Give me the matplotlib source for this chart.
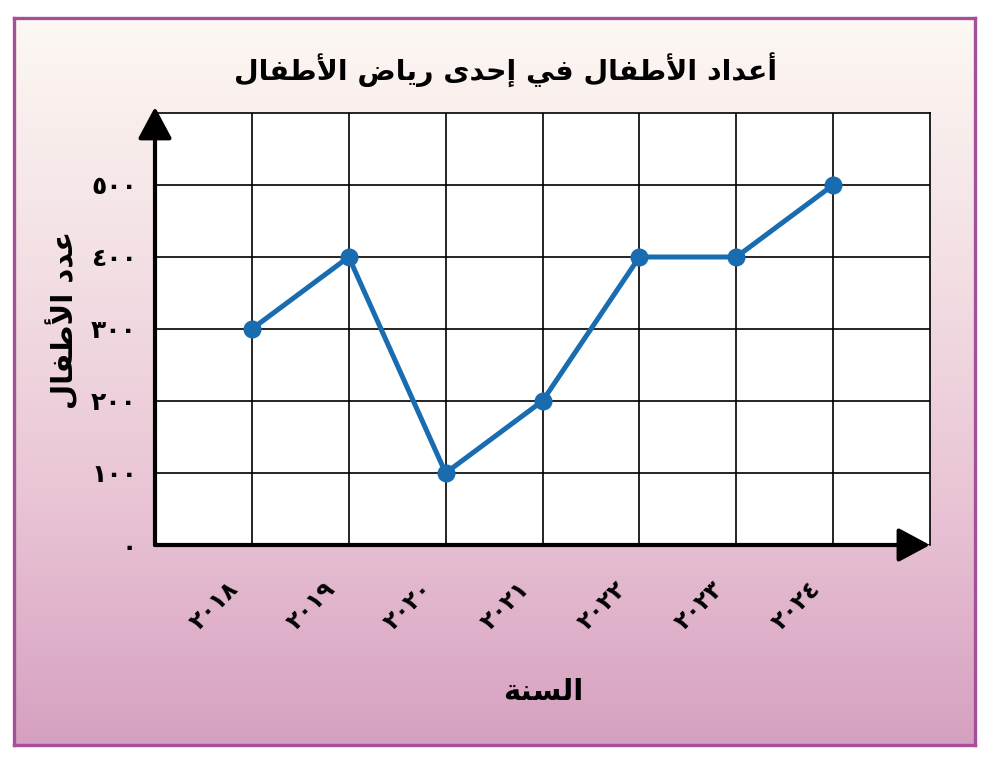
import matplotlib.pyplot as plt
import numpy as np
from matplotlib.colors import LinearSegmentedColormap
from matplotlib.transforms import ScaledTranslation

years = [2018, 2019, 2020, 2021, 2022, 2023, 2024]
children = [300, 400, 100, 200, 400, 400, 500]
y_ticks = [0, 100, 200, 300, 400, 500]

title = "أعداد الأطفال في إحدى رياض الأطفال"
x_label = "السنة"
y_label = "عدد الأطفال"

AR_DIGITS = "٠١٢٣٤٥٦٧٨٩"

# contextual forms (isolated, final[, initial, medial])
FORMS = {
    "ا": ("\ufe8d", "\ufe8e"),
    "أ": ("\ufe83", "\ufe84"),
    "إ": ("\ufe87", "\ufe88"),
    "ة": ("\ufe93", "\ufe94"),
    "د": ("\ufea9", "\ufeaa"),
    "ر": ("\ufead", "\ufeae"),
    "ى": ("\ufeef", "\ufef0"),
    "لا": ("\ufefb", "\ufefc"),
    "لأ": ("\ufef7", "\ufef8"),
    "لإ": ("\ufef9", "\ufefa"),
    "ح": ("\ufea1", "\ufea2", "\ufea3", "\ufea4"),
    "س": ("\ufeb1", "\ufeb2", "\ufeb3", "\ufeb4"),
    "ض": ("\ufebd", "\ufebe", "\ufebf", "\ufec0"),
    "ط": ("\ufec1", "\ufec2", "\ufec3", "\ufec4"),
    "ع": ("\ufec9", "\ufeca", "\ufecb", "\ufecc"),
    "ف": ("\ufed1", "\ufed2", "\ufed3", "\ufed4"),
    "ل": ("\ufedd", "\ufede", "\ufedf", "\ufee0"),
    "ن": ("\ufee5", "\ufee6", "\ufee7", "\ufee8"),
    "ي": ("\ufef1", "\ufef2", "\ufef3", "\ufef4"),
}


def ar_num(n):
    return "".join(AR_DIGITS[int(c)] for c in str(n))


def shape(text):
    # split into units, merging lam + alef
    units = []
    i = 0
    while i < len(text):
        if text[i] == "ل" and i + 1 < len(text) and text[i:i + 2] in FORMS:
            units.append(text[i:i + 2])
            i += 2
        else:
            units.append(text[i])
            i += 1
    out = []
    for k, u in enumerate(units):
        if u not in FORMS:
            out.append(u)
            continue
        prev = units[k - 1] if k > 0 else None
        nxt = units[k + 1] if k + 1 < len(units) else None
        jp = prev in FORMS and len(FORMS[prev]) == 4
        jn = len(FORMS[u]) == 4 and nxt in FORMS
        f = FORMS[u]
        if jp and jn:
            out.append(f[3])
        elif jp:
            out.append(f[1])
        elif jn:
            out.append(f[2])
        else:
            out.append(f[0])
    return "".join(out)[::-1]


plt.rcParams['font.family'] = ['DejaVu Sans']

fig = plt.figure(figsize=(9.99, 7.61), dpi=100)

# background panel with gradient and purple border
W, H = 999, 761
bg = fig.add_axes([14 / W, (H - 745) / H, 961 / W, 727 / H], zorder=0)
cmap = LinearSegmentedColormap.from_list("bg", ["#fdf8f3", "#f3e0e4", "#e9c4d5", "#d6a0c0"])
grad = np.linspace(0, 1, 256).reshape(-1, 1)
bg.imshow(grad, cmap=cmap, aspect='auto', extent=[0, 1, 0, 1], origin='upper')
bg.set_xticks([])
bg.set_yticks([])
for s in bg.spines.values():
    s.set_color("#a54f98")
    s.set_linewidth(2.4)

ax = fig.add_axes([155 / W, (H - 545) / H, 775 / W, 432 / H], zorder=1)
ax.set_facecolor("white")
ax.set_xlim(2017, 2025)
ax.set_ylim(0, 600)

ax.set_xticks(years)
ax.set_xticklabels([ar_num(y) for y in years], rotation=45, ha='right', va='center',
                   rotation_mode='anchor', fontsize=17, fontweight='bold')
ax.set_yticks(y_ticks)
ax.set_yticklabels([ar_num(v) for v in y_ticks], fontsize=18, fontweight='bold')
ax.tick_params(axis='x', length=0, pad=29)
ax.tick_params(axis='y', length=0, pad=13)
for lbl in ax.get_xticklabels():
    lbl.set_transform(lbl.get_transform() + ScaledTranslation(-0.17, 0, fig.dpi_scale_trans))

ax.grid(True, color="black", linewidth=1.2)
ax.set_axisbelow(True)
ax.spines['top'].set_linewidth(1.2)
ax.spines['right'].set_linewidth(1.2)
ax.spines['left'].set_visible(False)
ax.spines['bottom'].set_visible(False)

arrow = dict(arrowstyle='-|>,head_length=0.97,head_width=0.52', lw=3, color='black',
             mutation_scale=20, shrinkA=0, shrinkB=0)
ax.annotate('', xy=(0, 1.014), xytext=(0, 0), xycoords='axes fraction', arrowprops=arrow)
ax.annotate('', xy=(1.0, 0), xytext=(0, 0), xycoords='axes fraction', arrowprops=arrow)

ax.plot(years, children, color="#1a6cb0", linewidth=3.6, marker='o', markersize=12,
        clip_on=False, zorder=3)

fig.text(506 / W, 1 - 70 / H, shape(title), ha='center', va='center',
         fontsize=20.5, fontweight='bold')
fig.text(543 / W, 1 - 692 / H, shape(x_label), ha='center', va='center',
         fontsize=21, fontweight='bold')
fig.text(62 / W, 1 - 320 / H, shape(y_label), ha='center', va='center',
         rotation=90, fontsize=21, fontweight='bold')

fig.savefig("out.png", dpi=100)
